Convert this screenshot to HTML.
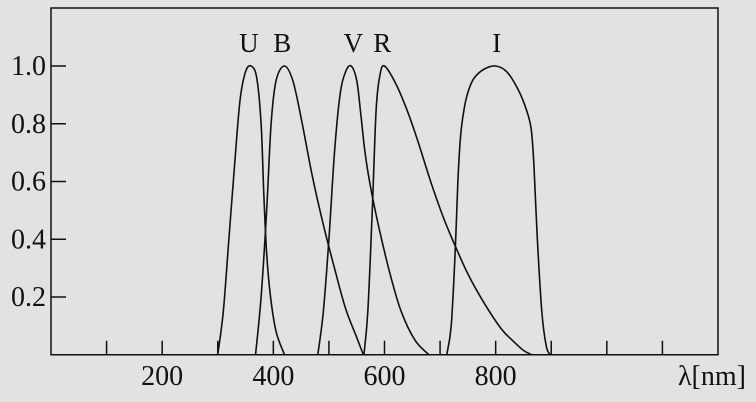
<!DOCTYPE html>
<html><head><meta charset="utf-8"><style>
html,body{margin:0;padding:0;background:#e1e2e4;}
svg{display:block;font-family:"Liberation Serif",serif;}
</style></head><body>
<svg id="chart" width="756" height="402">
<rect x="0" y="0" width="756" height="402" fill="#e1e2e4"/>
<g id="plot"></g>
</svg>
<script>
const xTicks=[100,200,300,400,500,600,700,800,900,1000,1100];
const xLabels=[200,400,600,800];
const yLabels=[0.2,0.4,0.6,0.8,1.0];
const names=["U","B","V","R","I"];
const labelNm=[356,416,544,596,802];
const U=[[300,0],[310,0.15],[320,0.4],[330,0.65],[340,0.88],[350,0.98],[360,1.0],[370,0.96],[378,0.8],[383,0.55],[388,0.35],[395,0.2],[405,0.08],[420,0]];
const B=[[368,0],[378,0.2],[388,0.5],[396,0.8],[405,0.95],[420,1.0],[435,0.95],[450,0.82],[470,0.62],[490,0.45],[510,0.3],[530,0.16],[550,0.06],[562,0]];
const V=[[480,0],[490,0.15],[500,0.4],[510,0.7],[520,0.9],[530,0.98],[540,1.0],[550,0.95],[557,0.84],[565,0.7],[575,0.58],[590,0.44],[610,0.28],[630,0.15],[655,0.05],[680,0]];
const R=[[563,0],[570,0.15],[578,0.5],[585,0.85],[592,0.97],[600,1.0],[620,0.94],[640,0.85],[660,0.74],[683,0.6],[705,0.48],[722,0.4],[750,0.28],[779,0.18],[810,0.09],[830,0.05],[850,0.015],[865,0]];
const I=[[712,0],[720,0.1],[727,0.35],[732,0.6],[737,0.76],[744,0.86],[752,0.92],[762,0.96],[780,0.99],[800,1.0],[820,0.98],[840,0.92],[855,0.85],[864,0.78],[869,0.65],[875,0.4],[883,0.15],[891,0.03],[898,0]];
const series=[U,B,V,R,I];

const L=51,T=8,Rr=718,Bt=354.75;
const xs=nm=>L+(nm/1200)*(Rr-L);
const ys=v=>Bt-v*(Bt-66)/1.0;
const NS="http://www.w3.org/2000/svg";
const g=document.getElementById('plot');
function mk(t,a){const e=document.createElementNS(NS,t);for(const k in a)e.setAttribute(k,a[k]);g.appendChild(e);return e;}

let frame=mk('rect',{x:L,y:T,width:Rr-L,height:Bt-T,fill:'none',stroke:'#111','stroke-width':1.5});



xTicks.forEach(t=>{const e=mk('line',{x1:xs(t),x2:xs(t),y1:Bt,y2:Bt-14,stroke:'#111','stroke-width':1.5});

});
xLabels.forEach(t=>{const e=mk('text',{x:xs(t),y:385,'text-anchor':'middle','font-size':28,fill:'#111'});e.textContent=t;

});
yLabels.forEach(t=>{const l=mk('line',{x1:L,x2:L+15,y1:ys(t),y2:ys(t),stroke:'#111','stroke-width':1.5});


const e=mk('text',{x:46,y:ys(t)+9,'text-anchor':'end','font-size':28,fill:'#111'});e.textContent=t.toFixed(1);

});
const xt=mk('text',{x:746,y:385,'text-anchor':'end','font-size':28,fill:'#111'});xt.textContent='λ[nm]';



function path(pts){const p=pts.map(d=>[xs(d[0]),ys(d[1])]);let s='M'+p[0][0]+','+p[0][1];
for(let i=0;i<p.length-1;i++){const p0=p[i-1]||p[i],p1=p[i],p2=p[i+1],p3=p[i+2]||p2;
const c1=[p1[0]+(p2[0]-p0[0])/6,p1[1]+(p2[1]-p0[1])/6],c2=[p2[0]-(p3[0]-p1[0])/6,p2[1]-(p3[1]-p1[1])/6];
s+=' C'+c1+' '+c2+' '+p2;}return s;}
series.forEach((d,i)=>{const e=mk('path',{d:path(d),fill:'none',stroke:'#111','stroke-width':1.6});


const t=mk('text',{x:xs(labelNm[i]),y:52,'text-anchor':'middle','font-size':27,fill:'#111'});t.textContent=names[i];

});
</script>
</body></html>
